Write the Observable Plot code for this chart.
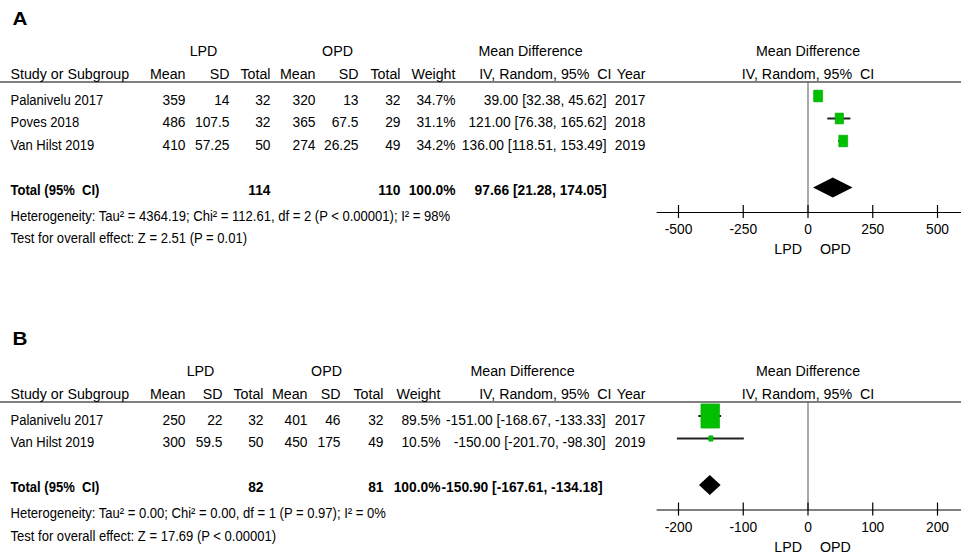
<!DOCTYPE html>
<html>
<head>
<meta charset="utf-8">
<script src="https://cdn.jsdelivr.net/npm/d3@7"></script>
<script src="https://cdn.jsdelivr.net/npm/@observablehq/plot@0.6"></script>
<style>
  html, body { margin: 0; padding: 0; background: #fff; }
  #chart svg { display: block; }
</style>
</head>
<body>
<div id="chart"></div>
<script>
// ---------- Panel A data ----------
const studiesA = ["Palanivelu 2017", "Poves 2018", "Van Hilst 2019"];
const lpdMeanA = [359, 486, 410];
const lpdSdA = [14, 107.5, 57.25];
const lpdNA = [32, 32, 50];
const opdMeanA = [320, 365, 274];
const opdSdA = [13, 67.5, 26.25];
const opdNA = [32, 29, 49];
const weightA = [34.7, 31.1, 34.2];
const mdA = [39.00, 121.00, 136.00];
const loA = [32.38, 76.38, 118.51];
const hiA = [45.62, 165.62, 153.49];
const yearA = [2017, 2018, 2019];
const totalNA = [114, 110];
const totalMdA = [97.66, 21.28, 174.05];
const hetA = "Heterogeneity: Tau\u00b2 = 4364.19; Chi\u00b2 = 112.61, df = 2 (P < 0.00001); I\u00b2 = 98%";
const testA = "Test for overall effect: Z = 2.51 (P = 0.01)";
const ticksA = [-500, -250, 0, 250, 500];

// ---------- Panel B data ----------
const studiesB = ["Palanivelu 2017", "Van Hilst 2019"];
const lpdMeanB = [250, 300];
const lpdSdB = [22, 59.5];
const lpdNB = [32, 50];
const opdMeanB = [401, 450];
const opdSdB = [46, 175];
const opdNB = [32, 49];
const weightB = [89.5, 10.5];
const mdB = [-151.00, -150.00];
const loB = [-168.67, -201.70];
const hiB = [-133.33, -98.30];
const yearB = [2017, 2019];
const totalNB = [82, 81];
const totalMdB = [-150.90, -167.61, -134.18];
const hetB = "Heterogeneity: Tau\u00b2 = 0.00; Chi\u00b2 = 0.00, df = 1 (P = 0.97); I\u00b2 = 0%";
const testB = "Test for overall effect: Z = 17.69 (P < 0.00001)";
const ticksB = [-200, -100, 0, 100, 200];

// ---------- layout (pixels) ----------
const colsA = {mean1:185, sd1:229, n1:270, mean2:315, sd2:358, n2:400, weight:455, md:606, mdTotal:606, iv:611, year:645, lpd:203, opd:337, mdHead:530};
const colsB = {mean1:185, sd1:222, n1:263, mean2:307, sd2:340, n2:383, weight:440, md:605, mdTotal:602, iv:611, year:645, lpd:200, opd:326, mdHead:522};

const FONT = '"Liberation Sans", Arial, sans-serif';
const FS = 15;
const GREEN = "#00c000";
const HEADERS = new Set(["Study or Subgroup", "Mean", "SD", "Total", "Weight", "IV, Random, 95%\u00a0 CI", "Year", "LPD", "OPD", "Mean Difference"]);

const rectSymbol = {
  draw(ctx, size) {
    const r = Math.sqrt(size / Math.PI);
    ctx.rect(-r, -1.3 * r, 2 * r, 2.6 * r);
  }
};

const fmt2 = v => v.toFixed(2);
const ciText = (m, l, h) => `${fmt2(m)} [${fmt2(l)}, ${fmt2(h)}]`;

function panel(p) {
  const n = p.studies.length;
  const rows = p.studies.map((s, i) => ({
    i, study: s,
    lm: p.lpdMean[i], ls: p.lpdSd[i], ln: p.lpdN[i],
    om: p.opdMean[i], os: p.opdSd[i], on: p.opdN[i],
    w: p.weight[i], md: p.md[i], lo: p.lo[i], hi: p.hi[i], yr: p.year[i]
  }));
  const totalRow = n + 1, hetRow = n + 2.15, testRow = n + 3.15, axisRow = n + 2;
  const hdrRow = -1.15, grpRow = -2.18, lineRow = -0.8, labelRow = -3.6;
  const c = p.cols;
  const d = p.ticks[p.ticks.length - 1];
  const [tm, tl, th] = p.total;
  const maxW = d3.max(p.weight);

  const cell = (t, x, row, anchor = "end", opts = {}) =>
    Plot.text([t], {y: () => row, text: d => d, frameAnchor: "left", dx: x, textAnchor: anchor, fontSize: FS, fill: "black", ...opts});
  const col = (fn, x, anchor = "end") =>
    Plot.text(rows, {y: "i", text: fn, frameAnchor: "left", dx: x, textAnchor: anchor, fontSize: FS, fill: "black"});

  const diamond = [
    {x: tl, y1: totalRow, y2: totalRow},
    {x: tm, y1: totalRow - 0.44, y2: totalRow + 0.44},
    {x: th, y1: totalRow, y2: totalRow}
  ];

  const svg = Plot.plot({
    width: 961,
    height: p.height,
    margin: 0,
    style: {fontFamily: FONT, fontSize: FS + "px", background: "white", color: "black"},
    x: {domain: [-d, d], range: [678, 937], axis: null},
    y: {type: "linear", domain: [0, 1], range: [99.5, 122], axis: null},
    r: {type: "pow", exponent: 0.7, domain: [0, maxW], range: [0, p.boxMax]},
    marks: [
      cell(p.label, 12, labelRow, "start", {fontSize: 18, fontWeight: "bold"}),
      cell("LPD", c.lpd, grpRow, "middle"),
      cell("OPD", c.opd, grpRow, "middle"),
      cell("Mean Difference", c.mdHead, grpRow, "middle"),
      Plot.text(["Mean Difference"], {x: () => 0, y: () => grpRow, text: d => d, fontSize: FS, fill: "black"}),
      cell("Study or Subgroup", 10, hdrRow, "start"),
      cell("Mean", c.mean1, hdrRow),
      cell("SD", c.sd1, hdrRow),
      cell("Total", c.n1, hdrRow),
      cell("Mean", c.mean2, hdrRow),
      cell("SD", c.sd2, hdrRow),
      cell("Total", c.n2, hdrRow),
      cell("Weight", c.weight, hdrRow),
      cell("IV, Random, 95%\u00a0 CI", c.iv, hdrRow),
      cell("Year", c.year, hdrRow),
      Plot.text(["IV, Random, 95%\u00a0 CI"], {x: () => 0, y: () => hdrRow, text: d => d, fontSize: FS, fill: "black"}),
      Plot.ruleY([lineRow], {stroke: "black", strokeWidth: 1.2}),
      col(d => d.study, 10, "start"),
      col(d => String(d.lm), c.mean1),
      col(d => String(d.ls), c.sd1),
      col(d => String(d.ln), c.n1),
      col(d => String(d.om), c.mean2),
      col(d => String(d.os), c.sd2),
      col(d => String(d.on), c.n2),
      col(d => d.w.toFixed(1) + "%", c.weight),
      col(d => ciText(d.md, d.lo, d.hi), c.md),
      col(d => String(d.yr), c.year),
      cell("Total (95%\u00a0 CI)", 10, totalRow, "start", {fontWeight: "bold"}),
      cell(String(p.totalN[0]), c.n1, totalRow, "end", {fontWeight: "bold"}),
      cell(String(p.totalN[1]), c.n2, totalRow, "end", {fontWeight: "bold"}),
      cell(d3.sum(p.weight).toFixed(1) + "%", c.weight, totalRow, "end", {fontWeight: "bold"}),
      cell(ciText(tm, tl, th), c.mdTotal, totalRow, "end", {fontWeight: "bold"}),
      cell(p.het, 10, hetRow, "start"),
      cell(p.test, 10, testRow, "start"),
      Plot.ruleX([0], {y1: lineRow, y2: axisRow, stroke: "#707070", strokeWidth: 1.2}),
      Plot.ruleY([axisRow], {x1: -1.165 * d, x2: 1.2 * d, stroke: "black", strokeWidth: 1.2}),
      Plot.ruleX(p.ticks, {x: t => t, y1: axisRow - 0.31, y2: axisRow + 0.27, stroke: "black", strokeWidth: 1.2}),
      Plot.text(p.ticks, {x: t => t, y: () => axisRow, dy: 17, text: t => String(t), fontSize: FS, fill: "black"}),
      Plot.text(["LPD"], {x: () => 0, y: () => axisRow, dy: 37, dx: -6, textAnchor: "end", text: d => d, fontSize: FS, fill: "black"}),
      Plot.text(["OPD"], {x: () => 0, y: () => axisRow, dy: 37, dx: 12, textAnchor: "start", text: d => d, fontSize: FS, fill: "black"}),
      Plot.ruleY(rows, {y: "i", x1: "lo", x2: "hi", dy: -4, stroke: "#222", strokeWidth: 2}),
      Plot.dot(rows, {x: "md", y: "i", dy: -4, r: "w", symbol: rectSymbol, fill: GREEN, stroke: "#00a800", strokeWidth: 0.6}),
      Plot.areaY(diamond, {x: "x", y1: "y1", y2: "y2", dy: -2, fill: "black"})
    ]
  });

  // condense glyphs horizontally around each text's own anchor (the reference uses a narrow face)
  svg.querySelectorAll("text").forEach(t => {
    const s = t.textContent;
    let k;
    if (s === "A" || s === "B") k = 1.15;
    else if (HEADERS.has(s)) k = 0.95;
    else if (/^[-\d.\[\],\s%]+$/.test(s)) k = 0.92;
    else k = 0.87;
    const tr = t.getAttribute("transform");
    if (tr) t.setAttribute("transform", `${tr} scale(${k},1)`);
  });
  return svg;
}

const chart = document.getElementById("chart");
chart.append(panel({
  label: "A", height: 320, studies: studiesA, lpdMean: lpdMeanA, lpdSd: lpdSdA, lpdN: lpdNA,
  opdMean: opdMeanA, opdSd: opdSdA, opdN: opdNA, weight: weightA, md: mdA, lo: loA, hi: hiA,
  year: yearA, totalN: totalNA, total: totalMdA, het: hetA, test: testA, ticks: ticksA,
  cols: colsA, boxMax: 4.5
}));
chart.append(panel({
  label: "B", height: 240, studies: studiesB, lpdMean: lpdMeanB, lpdSd: lpdSdB, lpdN: lpdNB,
  opdMean: opdMeanB, opdSd: opdSdB, opdN: opdNB, weight: weightB, md: mdB, lo: loB, hi: hiB,
  year: yearB, totalN: totalNB, total: totalMdB, het: hetB, test: testB, ticks: ticksB,
  cols: colsB, boxMax: 9.3
}));
</script>
</body>
</html>
